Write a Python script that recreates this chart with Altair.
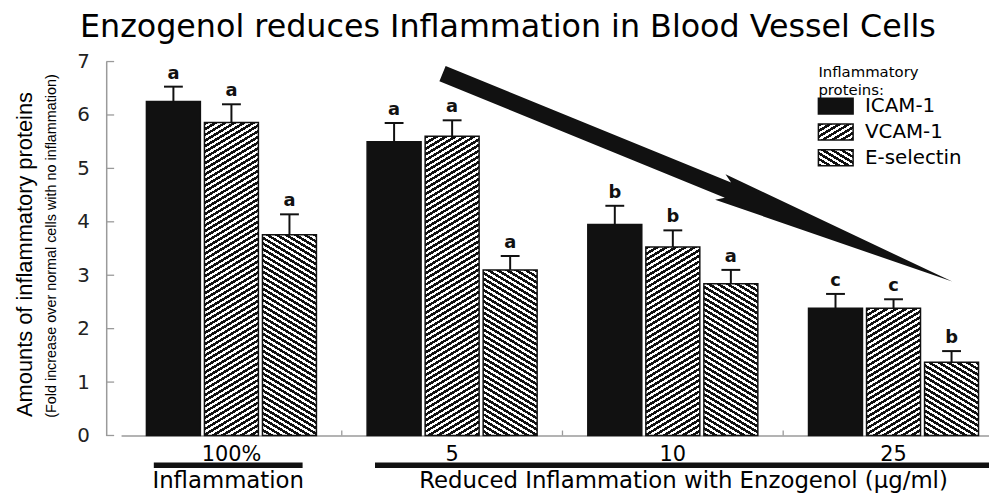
import math
import altair as alt
import pandas as pd

# ---------------- data ----------------
groups = ["100%", "5", "10", "25"]
proteins = ["ICAM-1", "VCAM-1", "E-selectin"]

icam_mean = [6.25, 5.50, 3.95, 2.38]
vcam_mean = [5.86, 5.60, 3.53, 2.38]
esel_mean = [3.76, 3.10, 2.84, 1.37]

icam_sem = [0.28, 0.35, 0.35, 0.27]
vcam_sem = [0.34, 0.30, 0.31, 0.17]
esel_sem = [0.38, 0.26, 0.26, 0.21]

icam_letter = ["a", "a", "b", "c"]
vcam_letter = ["a", "a", "b", "c"]
esel_letter = ["a", "a", "a", "b"]

y_ticks = [0, 1, 2, 3, 4, 5, 6, 7]

title_text = "Enzogenol reduces Inflammation in Blood Vessel Cells"
y_title = "Amounts of inflammatory proteins"
y_subtitle = "(Fold increase over normal cells with no inflammation)"
legend_title = ["Inflammatory", "proteins:"]
bracket_labels = ["Inflammation", "Reduced Inflammation with Enzogenol (\u00b5g/ml)"]

means = {"ICAM-1": icam_mean, "VCAM-1": vcam_mean, "E-selectin": esel_mean}
sems = {"ICAM-1": icam_sem, "VCAM-1": vcam_sem, "E-selectin": esel_sem}
letters = {"ICAM-1": icam_letter, "VCAM-1": vcam_letter, "E-selectin": esel_letter}

rows = []
for p in proteins:
    for i, g in enumerate(groups):
        rows.append({"group": g, "protein": p, "value": means[p][i],
                     "sem": sems[p][i], "letter": letters[p][i]})
df = pd.DataFrame(rows)

# ---------------- layout / style ----------------
W, H = 890, 377
YMAX = 7
PXU = H / YMAX
X_RANGE = [15, 905]
BAND = (X_RANGE[1] - X_RANGE[0]) / len(groups)
PI, PO = 0.07, 0.4367
STEP2 = BAND / (3 - PI + 2 * PO)
BAR_W = STEP2 * (1 - PI)
INK = "#111111"
SANS = "DejaVu Sans"
ARIAL = "Liberation Sans, Arial, sans-serif"


def stripes(w, h, kind, theta=31.0, vperiod=5.7, ink=0.52):
    th = math.radians(theta)
    a = w * math.sin(th)
    b = h * math.cos(th)
    k = (a + b) / (a * a + b * b)
    period = vperiod * math.cos(th)
    n = (a + b) / period
    stops = []
    i = 0
    while i / n < 1:
        o0 = round(i / n, 5)
        o1 = round(min((i + ink) / n, 1), 5)
        o2 = round(min((i + 1) / n, 1), 5)
        stops += [{"offset": o0, "color": INK}, {"offset": o1, "color": INK},
                  {"offset": o1, "color": "#ffffff"}, {"offset": o2, "color": "#ffffff"}]
        i += 1
    if kind == "/":
        return {"gradient": "linear", "x1": 0, "y1": 0, "x2": k * a, "y2": k * b, "stops": stops}
    return {"gradient": "linear", "x1": 1, "y1": 0, "x2": 1 - k * a, "y2": k * b, "stops": stops}


pattern = {"VCAM-1": "/", "E-selectin": "\\"}

x_scale = alt.Scale(domain=groups, range=X_RANGE, paddingInner=0, paddingOuter=0)
x_axis = alt.Axis(title=None, labelAngle=0, ticks=False, domainColor="#9a9a9a", domainWidth=1.5,
                  labelFont=SANS, labelFontSize=21, labelColor="black", labelPadding=8, grid=False)
y_scale = alt.Scale(domain=[0, YMAX], nice=False, zero=True)
y_axis = alt.Axis(title=y_title, values=y_ticks, ticks=False, grid=False, domainColor="#9a9a9a",
                  domainWidth=1.5, labelFont=SANS, labelFontSize=20, labelColor="#222222",
                  labelPadding=17, titleFont=ARIAL, titleFontSize=22, titleFontWeight="normal",
                  titleColor="black", titleX=-82, titleY=194, titleBaseline="middle",
                  titleAlign="center", titleAngle=270)

XO = alt.XOffset("protein:N", sort=proteins,
                 scale=alt.Scale(domain=proteins, paddingInner=PI, paddingOuter=PO))


def X(**kw):
    return alt.X("group:N", sort=groups, scale=x_scale, axis=x_axis, **kw)


def Y(field):
    return alt.Y(field, type="quantitative", scale=y_scale, axis=y_axis)


base = alt.Chart(df)
layers = []

# ICAM-1 solid bars
layers.append(base.transform_filter(alt.datum.protein == "ICAM-1")
              .mark_bar(fill=INK, stroke=INK, strokeWidth=1.5)
              .encode(x=X(), xOffset=XO, y=Y("value")))

# hatched bars (one layer per bar so each gets its own stripe gradient)
for p in ["VCAM-1", "E-selectin"]:
    for i, g in enumerate(groups):
        grad = stripes(BAR_W, means[p][i] * PXU, pattern[p])
        layers.append(base.transform_filter((alt.datum.protein == p) & (alt.datum.group == g))
                      .mark_bar(fill=grad, stroke=INK, strokeWidth=1.5)
                      .encode(x=X(), xOffset=XO, y=Y("value")))

err = base.transform_calculate(top="datum.value + datum.sem")
layers.append(err.mark_rule(color=INK, strokeWidth=2)
              .encode(x=X(), xOffset=XO, y=Y("value"), y2="top:Q"))
layers.append(err.mark_point(shape="M-1,0L1,0", size=361, filled=False, stroke=INK,
                             strokeWidth=2, opacity=1)
              .encode(x=X(), xOffset=XO, y=Y("top")))
layers.append(err.mark_text(font=SANS, fontSize=18, fontWeight="bold", color=INK,
                            baseline="alphabetic", dy=-8)
              .encode(x=X(), xOffset=XO, y=Y("top"), text="letter:N"))

# inward y ticks
layers.append(alt.Chart(pd.DataFrame({"value": y_ticks}))
              .mark_rule(color="#9a9a9a", strokeWidth=1.3)
              .encode(y=Y("value"), x=alt.value(0), x2=alt.value(8)))

# small ticks at group boundaries
layers.append(alt.Chart(pd.DataFrame({"group": groups[1:]}))
              .mark_rule(color="#9a9a9a", strokeWidth=1.3)
              .encode(x=X(bandPosition=0), y=alt.value(H), y2=alt.value(H - 5)))

one = alt.Data(values=[{"k": 1}])

# title
layers.append(alt.Chart(one).mark_text(text=title_text, font=SANS, fontSize=32, color="black",
                                       baseline="alphabetic", align="center")
              .encode(x=alt.value(405), y=alt.value(-25)))

# big arrow
arrow_path = "M-1,-0.03L0.12,-0.03L0.09,-0.05L1,0L0.09,0.05L0.12,0.03L-1,0.03Z"
layers.append(alt.Chart(one).mark_point(shape=arrow_path, filled=True, fill=INK,
                                        opacity=1, size=555 ** 2, angle=22.2)
              .encode(x=alt.value(596), y=alt.value(117)))

# y subtitle
layers.append(alt.Chart(one).mark_text(text=y_subtitle, angle=270, font=ARIAL, fontSize=14.5,
                                       color="black", baseline="middle", align="center")
              .encode(x=alt.value(-55), y=alt.value(186)))

# brackets under the axis
layers.append(alt.Chart(one).mark_rule(color=INK, strokeWidth=5.5)
              .encode(x=alt.value(48), x2=alt.value(198), y=alt.value(407)))
layers.append(alt.Chart(one).mark_rule(color=INK, strokeWidth=5.5)
              .encode(x=alt.value(271), x2=alt.value(890), y=alt.value(407)))
layers.append(alt.Chart(one).mark_text(text=bracket_labels[0], font=SANS, fontSize=23,
                                       color="black", baseline="middle", align="center")
              .encode(x=alt.value(123), y=alt.value(423)))
layers.append(alt.Chart(one).mark_text(text=bracket_labels[1], font=SANS, fontSize=23,
                                       color="black", baseline="middle", align="center")
              .encode(x=alt.value(582), y=alt.value(423)))

# legend
for j, line in enumerate(legend_title):
    layers.append(alt.Chart(one).mark_text(text=line, font=SANS, fontSize=15, color="black",
                                           baseline="alphabetic", align="left")
                  .encode(x=alt.value(718), y=alt.value(15.5 + 18 * j)))
for j, p in enumerate(proteins):
    y0 = 37 + 26 * j
    fill = INK if p == "ICAM-1" else stripes(35, 16, pattern[p])
    layers.append(alt.Chart(one).mark_rect(fill=fill, stroke=INK, strokeWidth=1.5)
                  .encode(x=alt.value(718), x2=alt.value(753), y=alt.value(y0), y2=alt.value(y0 + 16)))
    layers.append(alt.Chart(one).mark_text(text=p, font=SANS, fontSize=20, color="black",
                                           baseline="middle", align="left")
                  .encode(x=alt.value(765), y=alt.value(y0 + 8)))

chart = alt.layer(*layers).properties(
    width=W, height=H,
    background="white",
    autosize=alt.AutoSizeParams(type="none"),
    padding={"left": 99, "top": 52, "right": 0, "bottom": 58},
).configure_view(stroke=None)

chart.save("out.html", embed_options={"renderer": "svg", "actions": False})
